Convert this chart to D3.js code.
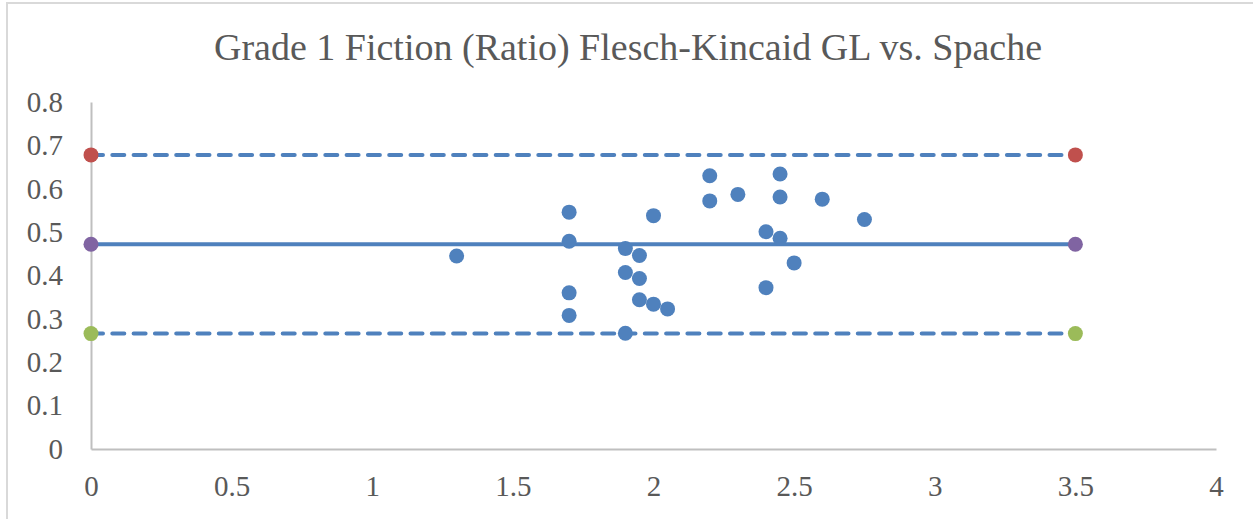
<!DOCTYPE html>
<html>
<head>
<meta charset="utf-8">
<script src="https://cdn.jsdelivr.net/npm/d3@7"></script>
<style>
  body { margin: 0; background: #fff; }
  .axis text { font-family: "Liberation Serif", "Times New Roman", serif; font-size: 29px; fill: #595959; }
  .axis path { stroke: #bfbfbf; stroke-width: 2; }
</style>
</head>
<body>
<div class="chart"></div>
<script>
// scatter points (Flesch-Kincaid GL vs ratio)
var gradeLevel = [1.3, 1.7, 1.7, 1.7, 1.7, 1.9, 1.9, 1.9, 1.95, 1.95, 1.95, 2.0, 2.0, 2.05,
                  2.2, 2.2, 2.3, 2.45, 2.45, 2.45, 2.4, 2.4, 2.5, 2.6, 2.75];
var ratio = [0.445, 0.546, 0.479, 0.360, 0.308, 0.462, 0.407, 0.267, 0.446, 0.393, 0.344, 0.538, 0.334, 0.323,
             0.630, 0.572, 0.587, 0.634, 0.581, 0.486, 0.501, 0.372, 0.429, 0.576, 0.529];

// reference lines: upper, mean, lower
var lineX = [0, 3.5];
var upperY = 0.678;
var meanY = 0.472;
var lowerY = 0.266;

var xTicks = [0, 0.5, 1, 1.5, 2, 2.5, 3, 3.5, 4];
var yTicks = [0, 0.1, 0.2, 0.3, 0.4, 0.5, 0.6, 0.7, 0.8];

var title = "Grade 1 Fiction (Ratio) Flesch-Kincaid GL vs. Spache";

var width = 1253, height = 519;

var svg = d3.select(".chart")
  .append("svg")
    .attr("width", width)
    .attr("height", height);

// chart border
svg.append("rect")
    .attr("x", 7)
    .attr("y", 3)
    .attr("width", 1260)
    .attr("height", 530)
    .attr("fill", "none")
    .attr("stroke", "#d9d9d9")
    .attr("stroke-width", 2);

svg.append("text")
    .attr("x", 628)
    .attr("y", 60)
    .attr("text-anchor", "middle")
    .attr("font-family", "Liberation Serif, Times New Roman, serif")
    .attr("font-size", "38px")
    .attr("fill", "#595959")
    .text(title);

var x = d3.scaleLinear()
    .domain([0, 4])
    .range([91, 1216]);

var y = d3.scaleLinear()
    .domain([0, 0.8])
    .range([449, 102]);

var fmt = d3.format("~g");

var xaxis = d3.axisBottom(x)
    .tickValues(xTicks)
    .tickFormat(fmt)
    .tickSize(0)
    .tickPadding(26);

var yaxis = d3.axisLeft(y)
    .tickValues(yTicks)
    .tickFormat(fmt)
    .tickSize(0)
    .tickPadding(28);

svg.append("g")
    .attr("class", "y axis")
    .attr("transform", "translate(91,0)")
    .call(yaxis);

svg.append("g")
    .attr("class", "x axis")
    .attr("transform", "translate(0,449)")
    .call(xaxis);

svg.selectAll(".axis .domain").attr("fill", "none");

var refLines = [
  {value: upperY, dash: "12,9.3", color: "#c0504d"},
  {value: meanY, dash: null, color: "#8064a2"},
  {value: lowerY, dash: "12,9.3", color: "#9bbb59"}
];

var line = d3.line()
    .x(function(d) { return x(d.x); })
    .y(function(d) { return y(d.y); });

refLines.forEach(function(r) {
  var pts = lineX.map(function(v) { return {x: v, y: r.value}; });

  svg.append("path")
      .datum(pts)
      .attr("fill", "none")
      .attr("stroke", "#4f81bd")
      .attr("stroke-width", 4)
      .attr("stroke-linecap", "round")
      .attr("stroke-dasharray", r.dash)
      .attr("d", line);

  svg.append("g")
    .selectAll("circle")
    .data(pts)
    .enter()
    .append("circle")
      .attr("cx", function(d) { return x(d.x); })
      .attr("cy", function(d) { return y(d.y); })
      .attr("r", 7.5)
      .attr("fill", r.color);
});

var points = gradeLevel.map(function(g, i) { return {x: g, y: ratio[i]}; });

svg.append("g")
  .selectAll("circle")
  .data(points)
  .enter()
  .append("circle")
    .attr("cx", function(d) { return x(d.x); })
    .attr("cy", function(d) { return y(d.y); })
    .attr("r", 7.5)
    .attr("fill", "#4f81bd");
</script>
</body>
</html>
